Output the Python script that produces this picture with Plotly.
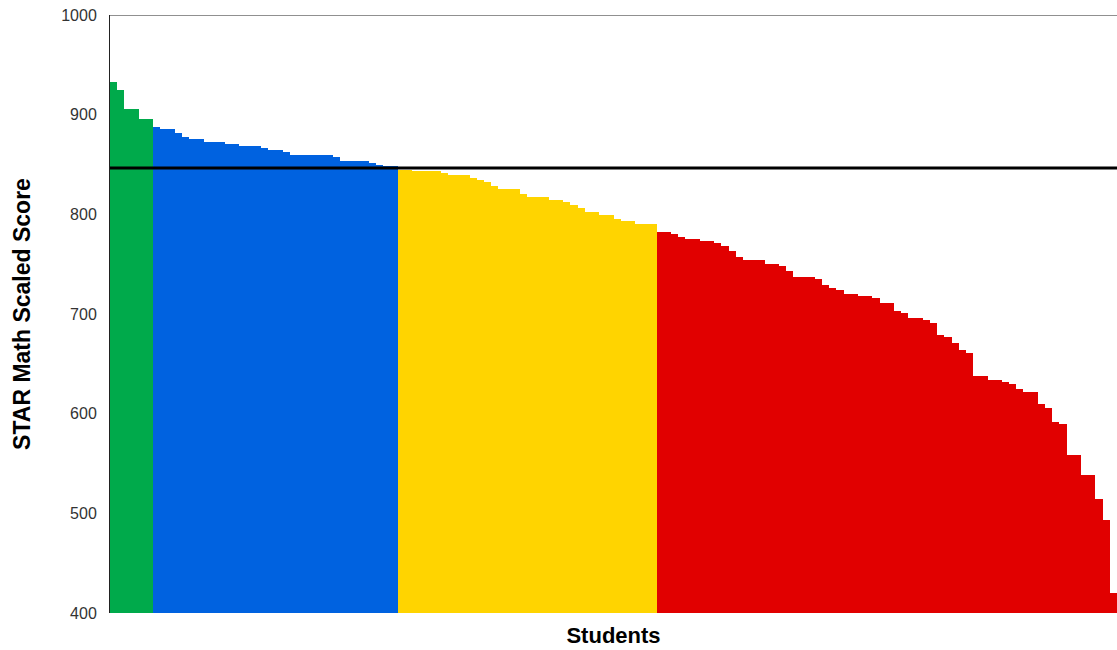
import plotly.graph_objects as go

# ---- data (scores, sorted high -> low) ----
green_scores = [933, 925, 906, 906, 896, 896]
blue_scores = [888, 886, 886, 882, 878, 876, 876, 873, 873, 873,
               871, 871, 869, 869, 869, 867, 865, 865, 863, 860,
               860, 860, 860, 860, 860, 858, 854, 854, 854, 854,
               852, 850, 848, 848]
yellow_scores = [844.5, 844.5, 843, 843, 843, 843, 841, 839.5, 839.5, 839.5,
                 836, 834.5, 832.5, 828, 825.5, 825.5, 825.5, 820, 817.5, 817.5,
                 817.5, 814.5, 814.5, 812, 809.5, 806.5, 802.5, 802.5, 799.5, 799.5,
                 795.5, 793.5, 793.5, 790.5, 790.5, 790.5]
red_scores = [782.5, 782.5, 780, 777, 775, 775, 773, 773, 771, 768.5,
              763.5, 757.5, 754, 754, 754, 750.5, 750.5, 748, 743, 737,
              737, 737, 735, 729, 726, 724, 720.5, 720.5, 718.5, 718.5,
              716, 711, 711, 703.5, 701, 696, 696, 694, 690.5, 679,
              677, 671, 664, 660.5, 638, 638, 634, 634, 632, 630,
              625, 621.5, 621.5, 609.5, 606, 591.5, 589.5, 559, 559, 538,
              538, 514, 493, 420]
benchmark = 846.5

groups = [
    (green_scores, "#00AA4B"),
    (blue_scores, "#0062E0"),
    (yellow_scores, "#FFD400"),
    (red_scores, "#E10000"),
]

y_ticks = [400, 500, 600, 700, 800, 900, 1000]

fig = go.Figure()
start = 0
for scores, color in groups:
    xs = list(range(start, start + len(scores)))
    fig.add_trace(go.Bar(x=xs, y=scores, marker=dict(color=color, line=dict(width=0)),
                         showlegend=False, hoverinfo="y"))
    start += len(scores)
n_total = start

# benchmark line
fig.add_shape(type="line", xref="paper", yref="y", x0=0, x1=1, y0=benchmark, y1=benchmark,
              line=dict(color="black", width=3), layer="above")
# top border of the frame
fig.add_shape(type="line", xref="paper", yref="y", x0=0, x1=1, y0=1000, y1=1000,
              line=dict(color="#222222", width=1), layer="above")

fig.update_layout(
    width=1117, height=650,
    margin=dict(l=110, r=0, t=15, b=37),
    paper_bgcolor="white", plot_bgcolor="white",
    bargap=0, barmode="overlay",
    font=dict(family="Liberation Sans, Arial, sans-serif", color="#333333", size=12),
)
fig.update_xaxes(
    range=[-0.5, n_total - 0.5], showticklabels=False, showgrid=False, zeroline=False,
    showline=False, ticks="",
    title=dict(text="<b>Students</b>", font=dict(size=22, color="black"), standoff=14),
)
fig.update_yaxes(
    range=[400, 1000], tickvals=y_ticks, ticktext=[str(v) for v in y_ticks],
    showgrid=False, zeroline=False,
    showline=True, linecolor="#222222", linewidth=1, layer="below traces",
    ticks="outside", ticklen=9, tickcolor="rgba(0,0,0,0)",
    tickfont=dict(size=16, color="#333333"),
    title=dict(text="<b>STAR Math Scaled Score</b>", font=dict(size=23, color="black"), standoff=24),
)

fig.write_html("out.html", config={"displayModeBar": False},
               post_script="document.body.style.margin='0';document.body.style.overflow='hidden';")
